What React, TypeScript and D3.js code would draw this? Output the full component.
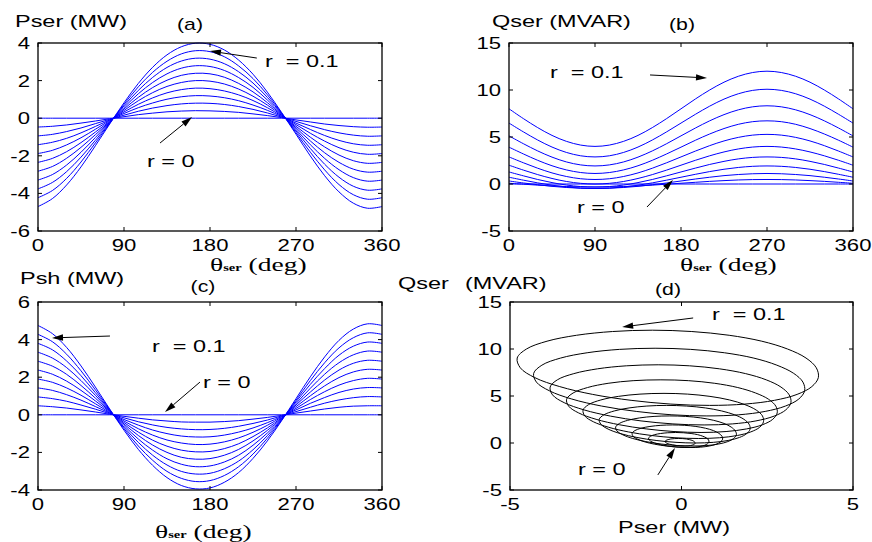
import React from "react";
import * as d3 from "d3";

// Series-converter injection angle (deg), sampled every 15 degrees
const thetaDeg = [0, 15, 30, 45, 60, 75, 90, 105, 120, 135, 150, 165, 180, 195, 210, 225, 240, 255, 270, 285, 300, 315, 330, 345, 360];

// Injected voltage magnitude r (p.u.), one curve per value
const rValues = [0, 0.01, 0.02, 0.03, 0.04, 0.05, 0.06, 0.07, 0.08, 0.09, 0.1];

// Series converter active power Pser (MW), rows follow rValues
const pserMW = [
  [0, 0, 0, 0, 0, 0, 0, 0, 0, 0, 0, 0, 0, 0, 0, 0, 0, 0, 0, 0, 0, 0, 0, 0, 0],
  [-0.47, -0.43, -0.36, -0.26, -0.15, -0.03, 0.08, 0.19, 0.27, 0.34, 0.38, 0.40, 0.39, 0.36, 0.31, 0.23, 0.14, 0.03, -0.09, -0.20, -0.31, -0.39, -0.45, -0.48, -0.47],
  [-0.94, -0.86, -0.71, -0.52, -0.29, -0.06, 0.16, 0.37, 0.54, 0.67, 0.76, 0.80, 0.79, 0.73, 0.62, 0.47, 0.28, 0.06, -0.17, -0.40, -0.61, -0.78, -0.90, -0.96, -0.94],
  [-1.41, -1.28, -1.07, -0.78, -0.44, -0.09, 0.25, 0.56, 0.81, 1.01, 1.14, 1.20, 1.18, 1.09, 0.93, 0.70, 0.42, 0.09, -0.26, -0.60, -0.92, -1.18, -1.36, -1.44, -1.41],
  [-1.88, -1.71, -1.42, -1.04, -0.59, -0.12, 0.33, 0.74, 1.08, 1.35, 1.52, 1.60, 1.57, 1.45, 1.24, 0.94, 0.56, 0.12, -0.34, -0.80, -1.22, -1.57, -1.81, -1.92, -1.88],
  [-2.35, -2.14, -1.78, -1.30, -0.74, -0.16, 0.41, 0.93, 1.36, 1.69, 1.90, 2.00, 1.97, 1.82, 1.55, 1.17, 0.70, 0.15, -0.43, -1.01, -1.53, -1.96, -2.26, -2.40, -2.35],
  [-2.82, -2.57, -2.13, -1.55, -0.88, -0.19, 0.49, 1.11, 1.63, 2.02, 2.28, 2.39, 2.36, 2.18, 1.85, 1.40, 0.83, 0.18, -0.51, -1.21, -1.84, -2.35, -2.71, -2.87, -2.82],
  [-3.29, -3.00, -2.49, -1.81, -1.03, -0.22, 0.57, 1.30, 1.90, 2.36, 2.66, 2.79, 2.75, 2.54, 2.16, 1.64, 0.97, 0.21, -0.60, -1.41, -2.14, -2.74, -3.16, -3.35, -3.29],
  [-3.76, -3.42, -2.84, -2.07, -1.18, -0.25, 0.66, 1.48, 2.17, 2.70, 3.04, 3.19, 3.14, 2.90, 2.47, 1.87, 1.11, 0.24, -0.68, -1.61, -2.45, -3.14, -3.62, -3.83, -3.76],
  [-4.23, -3.85, -3.20, -2.33, -1.32, -0.28, 0.74, 1.67, 2.44, 3.03, 3.42, 3.59, 3.54, 3.27, 2.78, 2.11, 1.25, 0.27, -0.77, -1.81, -2.75, -3.53, -4.07, -4.31, -4.23],
  [-4.70, -4.28, -3.55, -2.59, -1.47, -0.31, 0.82, 1.85, 2.71, 3.37, 3.80, 3.99, 3.93, 3.63, 3.09, 2.34, 1.39, 0.30, -0.85, -2.01, -3.06, -3.92, -4.52, -4.79, -4.70],
];

// Series converter reactive power Qser (MVAR), rows follow rValues
const qserMVAR = [
  [0, 0, 0, 0, 0, 0, 0, 0, 0, 0, 0, 0, 0, 0, 0, 0, 0, 0, 0, 0, 0, 0, 0, 0, 0],
  [0.08, -0.02, -0.12, -0.20, -0.27, -0.31, -0.32, -0.31, -0.27, -0.20, -0.12, -0.02, 0.08, 0.18, 0.28, 0.36, 0.43, 0.47, 0.48, 0.47, 0.43, 0.36, 0.28, 0.18, 0.08],
  [0.32, 0.11, -0.08, -0.25, -0.37, -0.45, -0.48, -0.45, -0.37, -0.25, -0.08, 0.11, 0.32, 0.53, 0.72, 0.89, 1.01, 1.09, 1.12, 1.09, 1.01, 0.89, 0.72, 0.53, 0.32],
  [0.72, 0.41, 0.12, -0.13, -0.32, -0.44, -0.48, -0.44, -0.32, -0.13, 0.12, 0.41, 0.72, 1.03, 1.32, 1.57, 1.76, 1.88, 1.92, 1.88, 1.76, 1.57, 1.32, 1.03, 0.72],
  [1.28, 0.87, 0.48, 0.15, -0.11, -0.27, -0.32, -0.27, -0.11, 0.15, 0.48, 0.87, 1.28, 1.69, 2.08, 2.41, 2.67, 2.83, 2.88, 2.83, 2.67, 2.41, 2.08, 1.69, 1.28],
  [2.00, 1.48, 1.00, 0.59, 0.27, 0.07, 0.00, 0.07, 0.27, 0.59, 1.00, 1.48, 2.00, 2.52, 3.00, 3.41, 3.73, 3.93, 4.00, 3.93, 3.73, 3.41, 3.00, 2.52, 2.00],
  [2.88, 2.26, 1.68, 1.18, 0.80, 0.56, 0.48, 0.56, 0.80, 1.18, 1.68, 2.26, 2.88, 3.50, 4.08, 4.58, 4.96, 5.20, 5.28, 5.20, 4.96, 4.58, 4.08, 3.50, 2.88],
  [3.92, 3.20, 2.52, 1.94, 1.50, 1.22, 1.12, 1.22, 1.50, 1.94, 2.52, 3.20, 3.92, 4.65, 5.32, 5.90, 6.35, 6.63, 6.72, 6.63, 6.35, 5.90, 5.32, 4.65, 3.92],
  [5.12, 4.29, 3.52, 2.86, 2.35, 2.03, 1.92, 2.03, 2.35, 2.86, 3.52, 4.29, 5.12, 5.95, 6.72, 7.38, 7.89, 8.21, 8.32, 8.21, 7.89, 7.38, 6.72, 5.95, 5.12],
  [6.48, 5.55, 4.68, 3.93, 3.36, 3.00, 2.88, 3.00, 3.36, 3.93, 4.68, 5.55, 6.48, 7.41, 8.28, 9.03, 9.60, 9.96, 10.08, 9.96, 9.60, 9.03, 8.28, 7.41, 6.48],
  [8.00, 6.96, 6.00, 5.17, 4.54, 4.14, 4.00, 4.14, 4.54, 5.17, 6.00, 6.96, 8.00, 9.04, 10.00, 10.83, 11.46, 11.86, 12.00, 11.86, 11.46, 10.83, 10.00, 9.04, 8.00],
];

// Shunt converter active power Psh (MW), rows follow rValues
const pshMW = [
  [0, 0, 0, 0, 0, 0, 0, 0, 0, 0, 0, 0, 0, 0, 0, 0, 0, 0, 0, 0, 0, 0, 0, 0, 0],
  [0.48, 0.43, 0.36, 0.26, 0.15, 0.03, -0.08, -0.18, -0.27, -0.33, -0.38, -0.39, -0.39, -0.36, -0.31, -0.23, -0.14, -0.03, 0.09, 0.20, 0.31, 0.40, 0.46, 0.48, 0.48],
  [0.95, 0.86, 0.72, 0.52, 0.30, 0.06, -0.16, -0.37, -0.54, -0.67, -0.75, -0.79, -0.78, -0.72, -0.61, -0.46, -0.28, -0.06, 0.17, 0.40, 0.62, 0.79, 0.91, 0.97, 0.95],
  [1.43, 1.30, 1.07, 0.78, 0.44, 0.09, -0.25, -0.55, -0.81, -1.00, -1.13, -1.18, -1.17, -1.08, -0.92, -0.70, -0.42, -0.09, 0.26, 0.61, 0.92, 1.19, 1.37, 1.45, 1.43],
  [1.90, 1.73, 1.43, 1.04, 0.59, 0.12, -0.33, -0.74, -1.08, -1.34, -1.50, -1.58, -1.56, -1.44, -1.23, -0.93, -0.56, -0.12, 0.34, 0.81, 1.23, 1.58, 1.82, 1.94, 1.90],
  [2.38, 2.16, 1.79, 1.30, 0.74, 0.16, -0.41, -0.92, -1.35, -1.67, -1.88, -1.97, -1.95, -1.80, -1.54, -1.16, -0.70, -0.16, 0.43, 1.01, 1.54, 1.98, 2.28, 2.42, 2.38],
  [2.85, 2.59, 2.15, 1.56, 0.89, 0.19, -0.49, -1.10, -1.61, -2.00, -2.26, -2.36, -2.33, -2.15, -1.84, -1.39, -0.83, -0.19, 0.52, 1.21, 1.85, 2.38, 2.74, 2.90, 2.85],
  [3.33, 3.02, 2.51, 1.82, 1.04, 0.22, -0.57, -1.29, -1.88, -2.34, -2.63, -2.76, -2.72, -2.51, -2.15, -1.62, -0.97, -0.22, 0.60, 1.41, 2.16, 2.77, 3.19, 3.39, 3.33],
  [3.80, 3.46, 2.86, 2.08, 1.18, 0.25, -0.66, -1.47, -2.15, -2.67, -3.01, -3.15, -3.11, -2.87, -2.46, -1.86, -1.11, -0.25, 0.69, 1.62, 2.46, 3.17, 3.65, 3.87, 3.80],
  [4.28, 3.89, 3.22, 2.34, 1.33, 0.28, -0.74, -1.66, -2.42, -3.01, -3.38, -3.55, -3.50, -3.23, -2.76, -2.09, -1.25, -0.28, 0.77, 1.82, 2.77, 3.56, 4.10, 4.36, 4.28],
  [4.75, 4.32, 3.58, 2.60, 1.48, 0.31, -0.82, -1.84, -2.69, -3.34, -3.76, -3.94, -3.89, -3.59, -3.07, -2.32, -1.39, -0.31, 0.86, 2.02, 3.08, 3.96, 4.56, 4.84, 4.75],
];

// Axis ticks
const thetaTicks = [0, 90, 180, 270, 360];
const pserTicks = [-6, -4, -2, 0, 2, 4];
const qserTicks = [-5, 0, 5, 10, 15];
const pshTicks = [-4, -2, 0, 2, 4, 6];
const pserLoopTicks = [-5, 0, 5];

const SANS = "'Liberation Sans', Arial, Helvetica, sans-serif";
const SERIF = "'Liberation Serif', 'Times New Roman', serif";
const BLUE = "#0000ff";
const INK = "#000000";

type TxtProps = {
  x: number;
  y: number;
  anchor?: "start" | "middle" | "end";
  size?: number;
  sx?: number;
  family?: string;
  children: React.ReactNode;
};

// Text drawn with a horizontal stretch, like the wide lettering of the figure
function Txt({ x, y, anchor = "start", size = 17, sx = 1.3, family = SANS, children }: TxtProps) {
  return (
    <text
      transform={`translate(${x},${y}) scale(${sx},1)`}
      textAnchor={anchor}
      fontSize={size}
      fontFamily={family}
      fill={INK}
    >
      {children}
    </text>
  );
}

// Angle axis title: theta with a small "ser" subscript, then (deg)
function ThetaLabel({ x, y }: { x: number; y: number }) {
  return (
    <text transform={`translate(${x},${y}) scale(1.45,1)`} fontFamily={SERIF} fontSize={19} fill={INK}>
      <tspan>θ</tspan>
      <tspan fontSize={10} fontWeight="bold">ser</tspan>
      <tspan> (deg)</tspan>
    </text>
  );
}

// Annotation arrow: thin shaft with a filled head at the target point
function Arrow({ from, to }: { from: [number, number]; to: [number, number] }) {
  const dx = to[0] - from[0];
  const dy = to[1] - from[1];
  const len = Math.hypot(dx, dy);
  const ux = dx / len;
  const uy = dy / len;
  const head = 11;
  const half = 3.2;
  const bx = to[0] - ux * head;
  const by = to[1] - uy * head;
  const pts = [
    [to[0], to[1]],
    [bx - uy * half, by + ux * half],
    [bx + uy * half, by - ux * half],
  ];
  return (
    <g>
      <line x1={from[0]} y1={from[1]} x2={bx} y2={by} stroke={INK} strokeWidth={1} />
      <polygon points={pts.map((p) => p.join(",")).join(" ")} fill={INK} />
    </g>
  );
}

type Scale = d3.ScaleLinear<number, number>;

// Boxed axes with inward ticks on all four sides
function Frame({ xs, ys, xTicks, yTicks }: { xs: Scale; ys: Scale; xTicks: number[]; yTicks: number[] }) {
  const [x0, x1] = xs.range();
  const [y0, y1] = ys.range();
  const L = 4;
  return (
    <g>
      <rect x={x0} y={y1} width={x1 - x0} height={y0 - y1} fill="none" stroke={INK} strokeWidth={1.3} />
      {xTicks.map((t) => {
        const px = xs(t);
        return (
          <g key={`x${t}`}>
            <line x1={px} x2={px} y1={y0} y2={y0 - L} stroke={INK} strokeWidth={1} />
            <line x1={px} x2={px} y1={y1} y2={y1 + L} stroke={INK} strokeWidth={1} />
            <Txt x={px} y={y0 + 20} anchor="middle">{String(t)}</Txt>
          </g>
        );
      })}
      {yTicks.map((t) => {
        const py = ys(t);
        return (
          <g key={`y${t}`}>
            <line x1={x0} x2={x0 + L} y1={py} y2={py} stroke={INK} strokeWidth={1} />
            <line x1={x1} x2={x1 - L} y1={py} y2={py} stroke={INK} strokeWidth={1} />
            <Txt x={x0 - 8} y={py + 6} anchor="end">{String(t)}</Txt>
          </g>
        );
      })}
    </g>
  );
}

export default function App() {
  const xa = d3.scaleLinear().domain([0, 360]).range([38, 382]);
  const ya = d3.scaleLinear().domain([-6, 4]).range([231, 43]);
  const xb = d3.scaleLinear().domain([0, 360]).range([509, 853]);
  const yb = d3.scaleLinear().domain([-5, 15]).range([231, 43]);
  const xc = d3.scaleLinear().domain([0, 360]).range([38, 382]);
  const yc = d3.scaleLinear().domain([-4, 6]).range([490, 302]);
  const xd = d3.scaleLinear().domain([-5, 5]).range([510, 853]);
  const yd = d3.scaleLinear().domain([-5, 15]).range([490, 302]);

  const sweep = (xs: Scale, ys: Scale) =>
    d3
      .line<number>()
      .x((_, i) => xs(thetaDeg[i]))
      .y((v) => ys(v))
      .curve(d3.curveCatmullRom.alpha(0.5));

  const lineA = sweep(xa, ya);
  const lineB = sweep(xb, yb);
  const lineC = sweep(xc, yc);

  const loop = d3
    .line<[number, number]>()
    .x((p) => xd(p[0]))
    .y((p) => yd(p[1]))
    .curve(d3.curveCatmullRomClosed.alpha(0.5));

  const loops = rValues.map((_, k) =>
    pserMW[k].slice(0, thetaDeg.length - 1).map((p, i) => [p, qserMVAR[k][i]] as [number, number])
  );

  const pt = (xs: Scale, ys: Scale, a: number, b: number): [number, number] => [xs(a), ys(b)];

  return (
    <svg
      width={872}
      height={542}
      viewBox="0 0 872 542"
      style={{ position: "absolute", left: 0, top: 0, background: "#fff" }}
    >
      <rect x={0} y={0} width={872} height={542} fill="#fff" />

      {/* (a) Pser versus injection angle */}
      <g>
        {pserMW.map((row, k) => (
          <path key={`a${rValues[k]}`} d={lineA(row) ?? ""} fill="none" stroke={BLUE} strokeWidth={1} />
        ))}
        <Frame xs={xa} ys={ya} xTicks={thetaTicks} yTicks={pserTicks} />
        <Txt x={15} y={27} sx={1.38}>Pser (MW)</Txt>
        <Txt x={190} y={30} anchor="middle" sx={1.25}>(a)</Txt>
        <ThetaLabel x={210} y={271} />
        <Arrow from={pt(xa, ya, 229, 3.2)} to={pt(xa, ya, 180, 3.57)} />
        <Txt x={xa(237.6)} y={ya(2.72)} sx={1.38}>{"r\u00a0\u00a0= 0.1"}</Txt>
        <Arrow from={pt(xa, ya, 127.7, -1.32)} to={pt(xa, ya, 161.2, 0.06)} />
        <Txt x={xa(114)} y={ya(-2.6)} sx={1.38}>r = 0</Txt>
      </g>

      {/* (b) Qser versus injection angle */}
      <g>
        {qserMVAR.map((row, k) => (
          <path key={`b${rValues[k]}`} d={lineB(row) ?? ""} fill="none" stroke={BLUE} strokeWidth={1} />
        ))}
        <Frame xs={xb} ys={yb} xTicks={thetaTicks} yTicks={qserTicks} />
        <Txt x={492} y={27} sx={1.38}>Qser (MVAR)</Txt>
        <Txt x={682} y={30} anchor="middle" sx={1.25}>(b)</Txt>
        <ThetaLabel x={680} y={271} />
        <Arrow from={pt(xb, yb, 147.6, 11.6)} to={pt(xb, yb, 207.2, 11.28)} />
        <Txt x={xb(42.9)} y={yb(11.28)} sx={1.38}>{"r\u00a0\u00a0= 0.1"}</Txt>
        <Arrow from={pt(xb, yb, 144.4, -2.45)} to={pt(xb, yb, 171.6, 0.43)} />
        <Txt x={xb(71.2)} y={yb(-3.09)} sx={1.38}>r = 0</Txt>
      </g>

      {/* (c) Psh versus injection angle */}
      <g>
        {pshMW.map((row, k) => (
          <path key={`c${rValues[k]}`} d={lineC(row) ?? ""} fill="none" stroke={BLUE} strokeWidth={1} />
        ))}
        <Frame xs={xc} ys={yc} xTicks={thetaTicks} yTicks={pshTicks} />
        <Txt x={20} y={284} sx={1.38}>Psh (MW)</Txt>
        <Txt x={203} y={292} anchor="middle" sx={1.25}>(c)</Txt>
        <ThetaLabel x={155} y={538} />
        <Arrow from={pt(xc, yc, 75.3, 4.19)} to={pt(xc, yc, 14.65, 4.09)} />
        <Txt x={xc(119.3)} y={yc(3.34)} sx={1.38}>{"r\u00a0\u00a0= 0.1"}</Txt>
        <Arrow from={pt(xc, yc, 169.5, 1.74)} to={pt(xc, yc, 132.9, 0.15)} />
        <Txt x={xc(172.7)} y={yc(1.43)} sx={1.38}>r = 0</Txt>
      </g>

      {/* (d) Qser versus Pser loops */}
      <g>
        {loops.map((pts, k) => (
          <path key={`d${rValues[k]}`} d={loop(pts) ?? ""} fill="none" stroke={INK} strokeWidth={1} />
        ))}
        <Frame xs={xd} ys={yd} xTicks={pserLoopTicks} yTicks={qserTicks} />
        <Txt x={398} y={289} sx={1.38}>Qser</Txt>
        <Txt x={465} y={289} sx={1.38}>(MVAR)</Txt>
        <Txt x={668} y={295} anchor="middle" sx={1.25}>(d)</Txt>
        <Txt x={618} y={533} sx={1.38}>Pser (MW)</Txt>
        <Arrow from={pt(xd, yd, 0.34, 13.3)} to={pt(xd, yd, -1.73, 12.34)} />
        <Txt x={xd(0.89)} y={yd(13.09)} sx={1.38}>{"r\u00a0\u00a0= 0.1"}</Txt>
        <Arrow from={pt(xd, yd, -0.69, -3.4)} to={pt(xd, yd, -0.19, -0.53)} />
        <Txt x={xd(-3.02)} y={yd(-3.4)} sx={1.38}>r = 0</Txt>
      </g>
    </svg>
  );
}
